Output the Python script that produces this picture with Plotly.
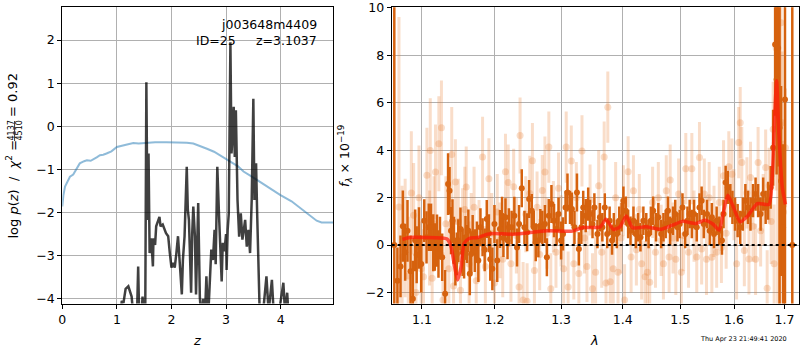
import math
import plotly.graph_objects as go

# ---------------- left panel: p(z) ----------------
pz_z = [1.05, 1.09, 1.12, 1.16, 1.21, 1.24, 1.27, 1.31, 1.37, 1.39, 1.41, 1.45, 1.47, 1.50, 1.52,
        1.54, 1.56, 1.58, 1.60, 1.63, 1.66, 1.67, 1.70, 1.72, 1.76, 1.78, 1.80, 1.84, 1.90, 1.94,
        1.97, 2.00, 2.03, 2.06, 2.09, 2.12, 2.14, 2.17, 2.19, 2.21, 2.24, 2.28, 2.30, 2.32, 2.34,
        2.36, 2.38, 2.40, 2.43, 2.45, 2.49, 2.52, 2.55, 2.58, 2.61, 2.64, 2.67, 2.70, 2.73, 2.76,
        2.79, 2.81, 2.84, 2.87, 2.90, 2.92, 2.94, 2.97, 3.00, 3.01, 3.03, 3.05, 3.08, 3.10, 3.12,
        3.14, 3.16, 3.18, 3.21, 3.24, 3.27, 3.30, 3.35, 3.38, 3.41, 3.44, 3.47, 3.50, 3.52, 3.55,
        3.57, 3.60, 3.62, 3.68, 3.74, 3.78, 3.84, 3.88, 3.95, 4.05, 4.08, 4.12, 4.15]
pz_logp = [-4.6, -4.05, -4.1, -3.77, -3.71, -3.85, -3.95, -4.5, -4.3, -3.25, -4.5, -4.4, -3.95, -4.5, -4.3,
           1.02, -2.17, -0.63, -2.94, -2.6, -3.25, -2.6, -2.75, -2.32, -2.17, -2.1, -2.32, -2.28, -2.48, -2.55,
           -2.94, -3.28, -3.17, -3.28, -2.94, -2.55, -2.94, -3.56, -3.9, -3.09, -2.55, -0.94, -1.94, -2.17, -2.94,
           -3.86, -2.48, -1.86, -2.56, -3.9, -1.78, -3.97, -4.5, -4.0, -4.5, -3.48, -4.5, -3.6, -2.86, -3.1,
           -2.4, -3.2, -0.94, -2.02, -3.1, -3.6, -2.7, -2.9, -2.5, -3.33, -2.4, -2.02, 1.95, -0.63, -0.2,
           0.45, -0.71, 0.37, -1.71, -2.56, -2.02, -2.63, -2.17, -2.79, -2.4, -2.94, -1.71, 0.64, -1.71, -0.86,
           -2.02, -3.09, -4.5, -4.3, -3.48, -4.3, -3.56, -4.5, -4.5, -3.63, -4.3, -3.86, -4.5]

chi_z = [0.0, 0.02, 0.05, 0.10, 0.14, 0.20, 0.23, 0.28, 0.32, 0.40, 0.45, 0.52, 0.57, 0.63, 0.69,
         0.75, 0.81, 0.90, 1.00, 1.10, 1.18, 1.30, 1.40, 1.50, 1.70, 1.91, 2.10, 2.28, 2.40, 2.52,
         2.65, 2.78, 2.89, 3.00, 3.13, 3.22, 3.32, 3.45, 3.62, 3.80, 3.99, 4.20, 4.36, 4.52, 4.66,
         4.75, 4.97]
chi_val = [-1.86, -1.6, -1.40, -1.25, -1.17, -1.12, -1.05, -0.92, -0.86, -0.81, -0.79, -0.80, -0.77, -0.72, -0.67,
           -0.66, -0.63, -0.58, -0.48, -0.45, -0.42, -0.39, -0.40, -0.39, -0.37, -0.37, -0.37, -0.38, -0.40, -0.45,
           -0.52, -0.59, -0.67, -0.75, -0.86, -0.93, -1.05, -1.15, -1.29, -1.44, -1.59, -1.74, -1.90, -2.05, -2.19,
           -2.23, -2.23]

# ---------------- right panel: spectrum ----------------
dark_wave = [1.064, 1.068, 1.072, 1.075, 1.078, 1.081, 1.085, 1.088, 1.091, 1.093, 1.096, 1.099,
             1.103, 1.106, 1.109, 1.112, 1.115, 1.117, 1.120, 1.122, 1.124, 1.127, 1.131, 1.135,
             1.137, 1.139, 1.141, 1.143, 1.145, 1.147, 1.149, 1.152, 1.155, 1.157, 1.159, 1.161,
             1.163, 1.165, 1.167, 1.169, 1.172, 1.175, 1.177, 1.180, 1.183, 1.186, 1.189, 1.192,
             1.194, 1.197, 1.200, 1.204, 1.208, 1.211, 1.213, 1.216, 1.219, 1.221, 1.225, 1.229,
             1.233, 1.236, 1.240, 1.244, 1.248, 1.251, 1.255, 1.258, 1.261, 1.265, 1.268, 1.271,
             1.275, 1.278, 1.281, 1.285, 1.289, 1.293, 1.296, 1.300, 1.303, 1.307, 1.310, 1.314,
             1.317, 1.321, 1.325, 1.328, 1.332, 1.335, 1.339, 1.343, 1.346, 1.350, 1.353, 1.358,
             1.362, 1.366, 1.370, 1.374, 1.378, 1.382, 1.385, 1.390, 1.394, 1.398, 1.401, 1.405,
             1.409, 1.413, 1.418, 1.422, 1.426, 1.430, 1.435, 1.440, 1.444, 1.448, 1.452, 1.457,
             1.461, 1.466, 1.470, 1.474, 1.478, 1.482, 1.487, 1.491, 1.495, 1.499, 1.504, 1.509,
             1.513, 1.517, 1.521, 1.525, 1.530, 1.535, 1.539, 1.543, 1.549, 1.554, 1.558, 1.562,
             1.567, 1.572, 1.577, 1.580, 1.584, 1.588, 1.593, 1.597, 1.602, 1.607, 1.612, 1.617,
             1.622, 1.627, 1.632, 1.637, 1.642, 1.647, 1.652, 1.657, 1.662, 1.667, 1.672, 1.677,
             1.681, 1.684, 1.687, 1.690, 1.693, 1.697, 1.701, 1.716]
dark_flux = [0.0, -1.5, -0.9, 0.8, -0.3, 0.6, -1.1, -2.26, 0.2, -0.41, 0.3, -0.8,
             1.03, 0.33, 0.75, 0.75, 0.1, -0.08, 0.19, -0.37, 0.3, -0.51, -2.05, 2.57,
             2.29, 0.61, 1.03, 0.2, -0.7, -0.37, 0.19, 0.68, -0.3, -0.51, 0.33, 0.05,
             0.6, -1.21, -0.37, 0.47, -0.23, 0.19, -0.65, 0.75, 0.33, -0.2, 1.1, 0.5,
             -0.6, -1.0, 0.89, -0.65, 0.68, 1.24, 0.3, 1.17, 0.2, 0.75, 0.75, 1.24,
             -0.1, 0.89, 2.4, 0.75, 0.54, 1.94, 1.45, 0.75, 0.12, 0.19, 0.82, 0.75,
             0.89, -0.51, 1.24, 1.73, 1.03, 0.68, 1.31, 0.19, 0.47, 1.59, 2.22, 1.59,
             1.52, 0.75, 2.22, -0.16, 0.75, 1.59, 1.24, 1.73, 1.31, 0.89, 1.59, 0.47,
             1.17, 0.75, 1.59, 0.47, 1.03, 0.19, 0.75, 0.47, 1.03, 1.17, 1.87, 1.45,
             0.89, 0.61, 1.03, 0.47, 0.75, 0.33, 1.03, 0.75, 0.47, 1.03, 1.45, 0.75,
             1.17, 0.47, 0.75, 0.89, 1.45, 0.61, 1.03, 1.31, 0.75, 0.89, 1.59, 0.47,
             1.03, 1.31, 0.89, 1.31, 0.75, 1.59, 1.87, 0.89, 1.31, 0.61, 1.17, 0.47,
             1.03, 0.61, 0.19, 1.31, 2.64, 2.43, 1.87, 1.59, 1.31, 1.03, 0.75, 1.31,
             1.87, 1.59, 1.31, 1.87, 2.15, 1.87, 1.31, 2.15, 1.59, 1.87, 2.43, 4.1,
             8.45, 6.98, 8.31, 4.95, 2.7, 0.75, 6.14, 0.0]
dark_err = [60, 1.4, 1.3, 1.5, 1.2, 1.3, 1.5, 1.6, 1.3, 1.2, 1.3, 1.2,
            0.9, 1.1, 1.0, 1.0, 1.2, 1.0, 1.1, 1.0, 0.9, 1.0, 1.0, 1.3,
            1.0, 1.0, 0.9, 1.0, 1.0, 0.9, 0.9, 0.9, 1.0, 0.9, 0.9, 0.8,
            0.9, 0.9, 0.8, 0.8, 0.9, 0.8, 0.9, 0.8, 0.8, 0.9, 0.8, 0.8,
            0.9, 0.9, 0.8, 0.9, 0.8, 0.8, 0.8, 0.8, 0.8, 0.8, 0.7, 0.8,
            0.8, 0.8, 0.8, 0.7, 0.8, 0.8, 0.7, 0.7, 0.8, 0.7, 0.7, 0.7,
            0.8, 0.8, 0.7, 0.8, 0.7, 0.7, 0.7, 0.8, 0.7, 0.7, 0.8, 0.7,
            0.7, 0.7, 0.8, 0.7, 0.7, 0.7, 0.7, 0.7, 0.6, 0.6, 0.6, 0.6,
            0.6, 0.6, 0.6, 0.6, 0.6, 0.6, 0.6, 0.6, 0.6, 0.6, 0.6, 0.6,
            0.6, 0.6, 0.6, 0.6, 0.6, 0.6, 0.6, 0.6, 0.6, 0.6, 0.6, 0.6,
            0.6, 0.6, 0.6, 0.6, 0.6, 0.6, 0.6, 0.6, 0.6, 0.6, 0.6, 0.6,
            0.6, 0.6, 0.6, 0.6, 0.6, 0.6, 0.6, 0.6, 0.6, 0.6, 0.6, 0.6,
            0.6, 0.6, 0.6, 0.6, 0.7, 0.7, 0.7, 0.7, 0.7, 0.7, 0.7, 0.7,
            0.7, 0.7, 0.7, 0.7, 0.7, 0.7, 0.7, 0.7, 0.7, 0.8, 0.9, 1.6,
            3.0, 4.0, 5.0, 60, 4.0, 3.5, 60, 60]

light_wave = [1.070, 1.074, 1.078, 1.082, 1.086, 1.089, 1.092, 1.096, 1.099, 1.102, 1.1065, 1.110,
              1.111, 1.1135, 1.116, 1.118, 1.1225, 1.126, 1.128, 1.132, 1.136, 1.140, 1.1425, 1.145,
              1.149, 1.152, 1.155, 1.158, 1.160, 1.164, 1.167, 1.171, 1.174, 1.178, 1.183, 1.187,
              1.192, 1.196, 1.200, 1.204, 1.208, 1.212, 1.216, 1.220, 1.224, 1.228, 1.232, 1.236,
              1.2375, 1.242, 1.246, 1.248, 1.252, 1.256, 1.259, 1.263, 1.267, 1.271, 1.275, 1.278,
              1.281, 1.284, 1.288, 1.292, 1.296, 1.300, 1.304, 1.308, 1.311, 1.316, 1.320, 1.324,
              1.328, 1.333, 1.337, 1.341, 1.346, 1.350, 1.355, 1.360, 1.365, 1.369, 1.372, 1.375,
              1.379, 1.384, 1.388, 1.392, 1.397, 1.401, 1.403, 1.409, 1.414, 1.418, 1.423, 1.428,
              1.432, 1.438, 1.442, 1.446, 1.451, 1.456, 1.461, 1.466, 1.470, 1.475, 1.480, 1.482,
              1.487, 1.492, 1.497, 1.502, 1.506, 1.510, 1.515, 1.521, 1.525, 1.530, 1.535, 1.539,
              1.544, 1.548, 1.553, 1.558, 1.562, 1.567, 1.572, 1.576, 1.580, 1.585, 1.590, 1.596,
              1.600, 1.605, 1.609, 1.612, 1.615, 1.620, 1.625, 1.629, 1.632, 1.637, 1.642, 1.647,
              1.652, 1.657, 1.662, 1.665, 1.669, 1.673, 1.677, 1.679, 1.683, 1.686, 1.690, 1.693,
              1.695, 1.698, 1.702]
light_flux = [1.61, -0.5, 0.3, -1.3, 2.2, 1.26, -2.0, 2.0, -1.0, -1.33, 2.94, 0.3,
              3.99, -1.4, 0.9, 3.08, 4.27, 4.94, -2.31, 0.9, -1.0, 3.82, -1.72, 2.66,
              1.0, -1.9, 0.6, 1.5, 2.45, -0.8, 0.5, 1.6, -1.5, 0.2, 3.71, -0.9,
              2.8, 0.5, -1.6, 1.4, 0.2, -0.6, 3.09, 2.64, -0.79, 2.46, 0.4, -1.77,
              4.62, -2.31, 1.3, -2.36, 2.17, 3.55, -1.07, 1.6, -0.4, 2.3, 3.08, 0.5,
              4.13, -1.84, 1.2, -0.3, 2.4, 0.6, -1.0, 4.13, -1.77, 3.54, -0.79, 2.0,
              -1.2, 3.97, 0.3, -0.9, 1.9, -1.84, -1.14, 2.5, -0.3, 3.71, -1.6, 5.81,
              -1.54, -1.0, 2.0, -1.14, 0.3, 1.87, -2.31, 3.09, -0.5, 2.29, -0.2, 1.5,
              -0.79, -1.33, -1.14, -1.56, 1.8, -0.3, 2.0, 0.2, -0.79, 2.29, -0.5, 2.74,
              0.3, -0.6, 2.15, -1.14, 0.4, 3.22, -0.3, 3.22, 0.8, -0.5, 3.69, -0.16,
              2.15, -0.6, 2.0, -0.51, 1.0, -0.3, 1.8, -0.1, 2.92, 0.5, 3.3, 2.99,
              1.7, -0.79, 4.32, 5.16, 3.48, -0.23, 2.2, -0.58, 2.85, 0.8, -0.6, 3.48,
              0.6, 1.5, 3.27, -1.82, 2.5, 1.0, 4.88, -0.79, 8.3, 5.5, 5.1, 9.37,
              5.16, 1.4, 4.1]
light_err = [8.0, 3.0, 2.5, 2.5, 2.6, 2.2, 2.2, 2.2, 2.0, 2.0, 2.0, 2.0,
             2.2, 2.0, 2.0, 2.0, 2.0, 2.0, 2.0, 2.0, 2.0, 2.0, 2.0, 1.8,
             1.8, 1.8, 1.8, 1.8, 1.7, 1.8, 1.7, 1.7, 1.7, 1.7, 1.7, 1.7,
             1.7, 1.7, 1.7, 1.6, 1.6, 1.6, 1.6, 1.6, 1.6, 1.6, 1.6, 1.6,
             1.6, 1.6, 1.6, 1.6, 1.6, 1.6, 1.6, 1.5, 1.5, 1.5, 1.5, 1.5,
             1.5, 1.5, 1.5, 1.5, 1.5, 1.5, 1.5, 1.5, 1.5, 1.5, 1.5, 1.5,
             1.5, 1.5, 1.5, 1.5, 1.5, 1.5, 1.5, 1.5, 1.5, 1.5, 1.5, 1.5,
             1.5, 1.5, 1.5, 1.5, 1.5, 1.5, 1.5, 1.5, 1.5, 1.5, 1.5, 1.5,
             1.5, 1.5, 1.5, 1.5, 1.5, 1.5, 1.5, 1.5, 1.5, 1.5, 1.5, 1.5,
             1.5, 1.5, 1.5, 1.5, 1.5, 1.5, 1.5, 1.5, 1.5, 1.5, 1.5, 1.5,
             1.5, 1.5, 1.5, 1.5, 1.5, 1.5, 1.5, 1.5, 1.5, 1.5, 1.5, 1.5,
             1.5, 1.5, 1.5, 1.5, 1.5, 1.5, 1.5, 1.5, 1.5, 1.5, 1.5, 1.5,
             1.5, 1.5, 1.6, 1.6, 1.6, 1.8, 2.0, 2.5, 6.0, 8.0, 8.0, 10.0,
             3.0, 3.0, 2.5]

model_wave = [1.0745, 1.084, 1.102, 1.134, 1.139, 1.144, 1.148, 1.153, 1.157, 1.164, 1.176, 1.190,
              1.1993, 1.228, 1.278, 1.318, 1.335, 1.3629, 1.372, 1.3842, 1.3952, 1.4058, 1.4166,
              1.4387, 1.466, 1.486, 1.504, 1.529, 1.5447, 1.5604, 1.5717, 1.5794, 1.588, 1.5987,
              1.612, 1.625, 1.6454, 1.6686, 1.6754, 1.680, 1.684, 1.6886, 1.6954, 1.702]
model_flux = [0.24, 0.32, 0.32, 0.25, -0.07, -0.91, -1.47, -0.91, 0.07, 0.28, 0.32, 0.46,
              0.49, 0.46, 0.60, 0.59, 0.74, 0.77, 1.09, 0.66, 0.77, 1.23, 0.73,
              0.77, 0.67, 0.84, 1.0, 0.91, 1.05, 0.88, 0.63, 1.33, 2.10, 1.61,
              0.98, 1.19, 1.75, 1.72, 3.01, 5.39, 6.93, 4.69, 2.45, 1.72]

x_ticks_z = [0, 1, 2, 3, 4]
y_ticks_pz = [-4, -3, -2, -1, 0, 1, 2]
x_ticks_wave = [1.1, 1.2, 1.3, 1.4, 1.5, 1.6, 1.7]
y_ticks_flux = [-2, 0, 2, 4, 6, 8, 10]

DARK = "rgb(214,98,14)"
LIGHT = "rgba(232,120,40,0.25)"
FONT = "DejaVu Sans"
NB = "\u00a0"

fig = go.Figure()

fig.add_trace(go.Scatter(x=chi_z, y=chi_val, mode="lines",
                         line=dict(color="rgba(31,119,180,0.5)", width=2),
                         xaxis="x", yaxis="y", showlegend=False))
fig.add_trace(go.Scatter(x=pz_z, y=pz_logp, mode="lines",
                         line=dict(color="rgba(0,0,0,0.75)", width=2.5),
                         xaxis="x", yaxis="y", showlegend=False))

fig.add_trace(go.Scatter(x=light_wave, y=light_flux, mode="markers",
                         marker=dict(size=7, color=LIGHT),
                         error_y=dict(type="data", array=light_err, visible=True,
                                      thickness=3, width=0, color=LIGHT),
                         xaxis="x2", yaxis="y2", showlegend=False))
fig.add_trace(go.Scatter(x=dark_wave, y=dark_flux, mode="markers",
                         marker=dict(size=6, color=DARK),
                         error_y=dict(type="data", array=dark_err, visible=True,
                                      thickness=2.5, width=0, color=DARK),
                         xaxis="x2", yaxis="y2", showlegend=False))
fig.add_trace(go.Scatter(x=model_wave, y=model_flux, mode="lines",
                         line=dict(color="rgba(255,25,10,0.72)", width=3.5, shape="spline", smoothing=0.6),
                         xaxis="x2", yaxis="y2", showlegend=False))

fig.add_shape(type="line", xref="x2 domain", yref="y2", x0=0, x1=1, y0=0, y1=0,
              line=dict(color="black", width=2, dash="dot"), layer="above")

YDOM = [1 - 303.5 / 350, 1 - 7.3 / 350]
axis_common = dict(showgrid=True, gridcolor="#b0b0b0", gridwidth=1, showline=True,
                   linecolor="black", linewidth=1, mirror=True, ticks="outside",
                   ticklen=4, tickwidth=1, tickcolor="black", zeroline=False,
                   automargin=False,
                   tickfont=dict(family=FONT, size=12.5, color="black"))

fig.update_layout(
    width=800, height=350, margin=dict(l=0, r=0, t=0, b=0, pad=0),
    paper_bgcolor="white", plot_bgcolor="white",
    xaxis=dict(domain=[62.3 / 800, 333.3 / 800], range=[0, 4.965], tickvals=x_ticks_z,
               anchor="y", **axis_common),
    yaxis=dict(domain=YDOM, range=[-4.11, 2.76], tickvals=y_ticks_pz, anchor="x", **axis_common),
    xaxis2=dict(domain=[391.7 / 800, 799.2 / 800], type="log",
                range=[math.log10(1.0607), math.log10(1.7303)],
                tickvals=x_ticks_wave, ticktext=[f"{v:.1f}" for v in x_ticks_wave],
                anchor="y2", **axis_common),
    yaxis2=dict(domain=YDOM, range=[-2.46, 10.02], tickvals=y_ticks_flux, anchor="x2", **axis_common),
)

def px(x, y):
    return x / 800, 1 - y / 350

ann = []
def add_text(text, x, y, size=12.5, xanchor="center", yanchor="middle", angle=0):
    ax, ay = px(x, y)
    ann.append(dict(text=text, x=ax, y=ay, xref="paper", yref="paper", showarrow=False,
                    xanchor=xanchor, yanchor=yanchor, textangle=angle,
                    font=dict(family=FONT, size=size, color="black")))

add_text("j003648m4409", 318.5, 24, xanchor="right")
add_text("ID=25", 238.5, 40, xanchor="right")
add_text("z=3.1037", 318.5, 40, xanchor="right")
add_text("<i>z</i>", 197, 340, size=13)
add_text("<i>λ</i>", 594, 340, size=13)
add_text("Thu Apr 23 21:49:41 2020", 743, 339, size=6.5)

# left y label (with stacked fraction)
add_text("log" + NB + "<i>p</i>(<i>z</i>)" + NB * 2 + "/" + NB * 2 + "<i>χ</i><sup>2</sup>" + NB + "=",
         12, 241, size=13, yanchor="bottom", angle=-90)
add_text("4137", 10.5, 131, size=8, angle=-90)
add_text("4510", 18.5, 131, size=8, angle=-90)
add_text("=" + NB + "0.92", 12, 119, size=13, yanchor="bottom", angle=-90)
# right y label
add_text("<i>f</i><sub><i>λ</i></sub>" + NB + "×" + NB + "10<sup>−19</sup>", 345, 156, size=12.5, angle=-90)

fig.update_layout(annotations=ann)
fig.add_shape(type="line", xref="paper", yref="paper",
              x0=14.6 / 800, x1=14.6 / 800, y0=1 - 121 / 350, y1=1 - 141 / 350,
              line=dict(color="black", width=0.8))

fig.write_html("out.html")
